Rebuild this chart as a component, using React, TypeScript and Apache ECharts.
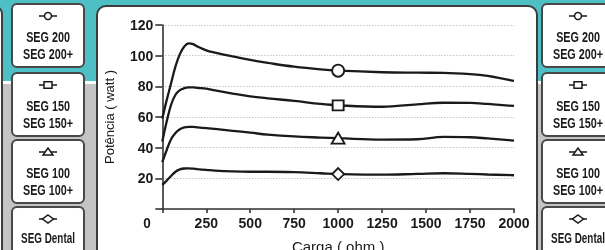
import React, { useEffect, useRef } from "react";
import * as echarts from "echarts";

// Load (ohm) sample points shared by all curves
const loads = [0, 25, 50, 75, 100, 125, 150, 175, 200, 250, 300, 400, 500, 600, 750, 900, 1000, 1250, 1450, 1600, 1750, 1850, 2000];
// Power (watt) per model
const seg200 = [59, 71, 82, 93, 101, 106, 108, 107.5, 106, 103.5, 102, 99.5, 97.2, 95.3, 92.8, 91, 90.2, 89.2, 88.9, 88.8, 88, 86.8, 83.5];
const seg150 = [44, 57, 68, 74.5, 77.5, 78.8, 79.3, 79.3, 79, 78.5, 77.3, 75.3, 73.5, 72.2, 70.5, 68.5, 67.6, 66.7, 68.3, 69.3, 69.2, 68.5, 67.2];
const seg100 = [30.5, 38.5, 45.5, 49.5, 52, 53.2, 53.6, 53.5, 53.3, 52.8, 52.2, 51, 49.8, 48.5, 47.3, 46.6, 46.2, 45.3, 45.5, 47, 46.8, 46, 44.6];
const segDental = [15.7, 18.5, 21.5, 24.3, 25.8, 26.4, 26.5, 26.3, 26, 25.5, 25, 24.5, 24.3, 24.3, 24, 23.3, 22.8, 22.4, 22.9, 23.3, 22.9, 22.5, 22];

const markerLoad = 1000;
const legendLines = [["SEG 200", "SEG 200+"], ["SEG 150", "SEG 150+"], ["SEG 100", "SEG 100+"], ["SEG Dental"]];
const symbols = ["circle", "rect", "triangle", "diamond"];
const symbolSizes: any[] = [12, [11, 10], [13, 11], [12, 12]];

const xTicks = { min: 0, max: 2000, interval: 250 };
const yTicks = { min: 0, max: 120, interval: 20 };

const FONT_BOLD = '"Liberation Sans", Arial, sans-serif';
const FONT_SANS = '"Liberation Sans", Arial, sans-serif';
const INK = "#1a1a1a";
const BORDER = "#3c3c3c";

function iconGraphic(kind: number, cx: number, cy: number): any[] {
  const st = { fill: "#fff", stroke: INK, lineWidth: 1.5 };
  const els: any[] = [
    { type: "line", z: 5, shape: { x1: cx - 9, y1: cy, x2: cx + 9, y2: cy }, style: { stroke: INK, lineWidth: 1.5 } },
  ];
  if (kind === 0) els.push({ type: "circle", z: 6, shape: { cx, cy, r: 3.5 }, style: st });
  if (kind === 1) els.push({ type: "rect", z: 6, shape: { x: cx - 4, y: cy - 3.2, width: 8, height: 6.4 }, style: st });
  if (kind === 2)
    els.push({ type: "polygon", z: 6, shape: { points: [[cx - 5, cy + 3], [cx + 5, cy + 3], [cx, cy - 4]] }, style: st });
  if (kind === 3)
    els.push({ type: "polygon", z: 6, shape: { points: [[cx, cy - 4], [cx + 5.5, cy], [cx, cy + 4], [cx - 5.5, cy]] }, style: st });
  return els;
}

function boxColumn(x: number, w: number): any[] {
  const tops = [4, 73, 140, 207];
  const els: any[] = [];
  const cx = x + w / 2;
  tops.forEach((t, i) => {
    els.push({
      type: "rect",
      z: 4,
      shape: { x, y: t, width: w, height: 63, r: 5 },
      style: { fill: "#fff", stroke: "#484848", lineWidth: 2 },
    });
    els.push(...iconGraphic(i, cx, t + 12));
    const lines = legendLines[i];
    lines.forEach((txt, j) => {
      els.push({
        type: "text",
        z: 6,
        x: cx,
        y: t + (lines.length === 1 ? 31 : 33 + j * 17),
        scaleX: lines.length === 1 ? 0.66 : 0.72,
        style: {
          text: txt,
          x: 0,
          y: 0,
          align: "center",
          verticalAlign: "middle",
          textAlign: "center",
          textVerticalAlign: "middle",
          font: `bold 15px ${FONT_BOLD}`,
          fill: INK,
        },
      });
    });
  });
  return els;
}

function buildSeries(vals: number[], idx: number) {
  const data = loads.map((x, i) =>
    x === markerLoad
      ? { value: [x, vals[i]], symbol: symbols[idx], symbolSize: symbolSizes[idx] }
      : [x, vals[i]]
  );
  return {
    type: "line",
    name: legendLines[idx].join(" / "),
    data,
    smooth: 0.4,
    symbol: "none",
    showSymbol: true,
    z: 3,
    lineStyle: { color: INK, width: 2.3 },
    itemStyle: { color: "#fff", borderColor: INK, borderWidth: 1.8 },
    emphasis: { disabled: true },
    silent: true,
  };
}

export default function App() {
  const ref = useRef<HTMLDivElement>(null);
  useEffect(() => {
    if (!ref.current) return;
    const chart = echarts.init(ref.current, undefined, { renderer: "svg" });
    const graphic: any[] = [
      { type: "rect", z: -20, shape: { x: 0, y: 0, width: 605, height: 81 }, style: { fill: "#4fbfc6" } },
      { type: "rect", z: -20, shape: { x: 0, y: 81, width: 605, height: 3 }, style: { fill: "#ffffff" } },
      { type: "rect", z: -20, shape: { x: 0, y: 84, width: 605, height: 166 }, style: { fill: "#c4c4c4" } },
      {
        type: "rect",
        z: -15,
        shape: { x: -20, y: 6, width: 22, height: 300, r: 8 },
        style: { fill: "#fff", stroke: BORDER, lineWidth: 2 },
      },
      {
        type: "rect",
        z: -15,
        shape: { x: 97, y: 6, width: 440, height: 300, r: 9 },
        style: { fill: "#fff", stroke: BORDER, lineWidth: 2 },
      },
      ...boxColumn(12, 72),
      ...boxColumn(542, 72),
      {
        type: "text",
        z: 6,
        x: 147,
        y: 223,
        scaleX: 0.9,
        style: {
          text: "0",
          x: 0,
          y: 0,
          align: "center",
          verticalAlign: "middle",
          textAlign: "center",
          textVerticalAlign: "middle",
          font: `bold 15px ${FONT_BOLD}`,
          fill: INK,
        },
      },
    ];
    chart.setOption({
      animation: false,
      backgroundColor: "transparent",
      grid: { left: 162.3, right: 91, top: 25, bottom: 41, containLabel: false, outerBoundsMode: "none" },
      xAxis: {
        type: "value",
        ...xTicks,
        name: "Carga ( ohm )",
        nameLocation: "middle",
        nameGap: 30,
        nameTextStyle: { fontFamily: FONT_SANS, fontSize: 15, color: INK },
        axisLine: { show: true, lineStyle: { color: "#333", width: 1.6 } },
        axisTick: { show: true, length: 4, lineStyle: { color: "#333", width: 1.6 } },
        axisLabel: {
          formatter: (v: number) => (v === 0 ? "" : String(v)),
          fontFamily: FONT_BOLD,
          fontWeight: "bold",
          fontSize: 14,
          color: INK,
          margin: 7,
        },
        splitLine: { show: false },
      },
      yAxis: {
        type: "value",
        ...yTicks,
        name: "Potência ( watt )",
        nameLocation: "middle",
        nameGap: 46,
        nameRotate: 90,
        nameTextStyle: { fontFamily: FONT_SANS, fontSize: 13, color: INK },
        axisLine: { show: true, lineStyle: { color: "#333", width: 1.6 } },
        axisTick: { show: true, length: 7, lineStyle: { color: "#333", width: 1.6 } },
        axisLabel: {
          formatter: (v: number) => (v === 0 ? "" : String(v)),
          fontFamily: FONT_BOLD,
          fontWeight: "bold",
          fontSize: 14,
          color: INK,
          margin: 9,
        },
        splitLine: { show: true, lineStyle: { color: "#a8a8a8", width: 1, type: [1, 2] } },
      },
      graphic,
      series: [buildSeries(seg200, 0), buildSeries(seg150, 1), buildSeries(seg100, 2), buildSeries(segDental, 3)],
    });
    return () => chart.dispose();
  }, []);
  return <div ref={ref} style={{ position: "fixed", left: 0, top: 0, width: 605, height: 250 }} />;
}
